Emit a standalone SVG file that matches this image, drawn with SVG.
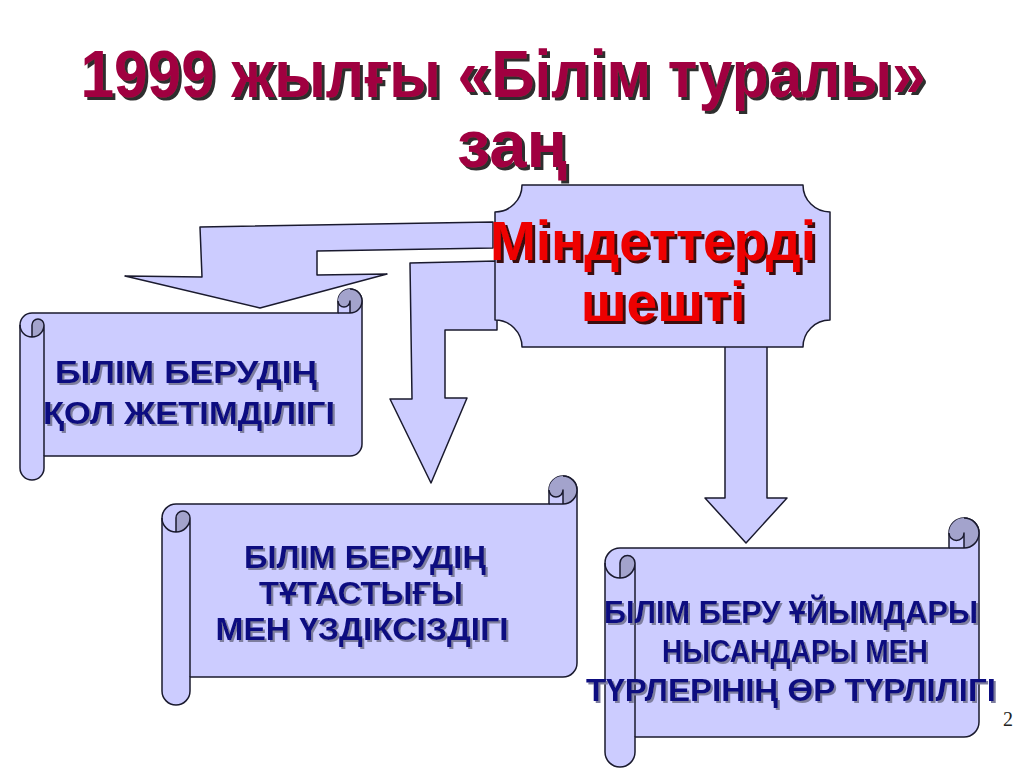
<svg xmlns="http://www.w3.org/2000/svg" width="1024" height="768" viewBox="0 0 1024 768">
<defs>
<filter id="shT" x="-5%" y="-20%" width="110%" height="140%"><feDropShadow dx="3" dy="3" stdDeviation="0.3" flood-color="#2e2e2e" flood-opacity="1"/></filter>
<filter id="shP" x="-5%" y="-20%" width="110%" height="140%"><feDropShadow dx="3" dy="3" stdDeviation="0.3" flood-color="#3a1010" flood-opacity="1"/></filter>
<filter id="shS" x="-5%" y="-20%" width="110%" height="140%"><feDropShadow dx="2" dy="2" stdDeviation="0.5" flood-color="#7E7E9E" flood-opacity="1"/></filter>
</defs>
<style>
.bg{fill:#ffffff}
.shape{fill:#CCCCFF;stroke:#1a1a2e;stroke-width:1.5;stroke-linejoin:round}
.dark{fill:#A3A3CC;stroke:none}
.line{fill:none;stroke:#1a1a2e;stroke-width:1.5;stroke-linejoin:round}
.title{font-family:"Liberation Sans",Arial,sans-serif;font-weight:bold;font-size:67px;text-anchor:middle;fill:#A00040;filter:url(#shT)}
.ptxt{font-family:"Liberation Sans",Arial,sans-serif;font-weight:bold;font-size:55px;text-anchor:middle;fill:#EE0000;filter:url(#shP)}
.stxt{font-family:"Liberation Sans",Arial,sans-serif;font-weight:bold;font-size:31px;text-anchor:middle;fill:#0A0A80;filter:url(#shS)}
.num{font-family:"Liberation Serif","Times New Roman",serif;font-size:20px;fill:#222;text-anchor:middle}
</style>
<rect class="bg" x="0" y="0" width="1024" height="768"/>

<g id="title">
<text class="title" x="503" y="97" textLength="845" lengthAdjust="spacingAndGlyphs">1999 жылғы «Білім туралы»</text>
<text class="title" x="512" y="167">заң</text>
</g>

<g id="connectors">
<polygon class="shape" points="200,227 493,222 493,248 317,251 317,275 387,274 260,308 125,276 202,277"/>
<polygon class="shape" points="410,263 497,261 497,330 445,330 445,398 467,398 431,483 390,399 412,399"/>
<polygon class="shape" points="725,340 767,340 767,498 787,498 746,543 705,498 725,498"/>
</g>

<g id="node-tasks">
<path class="shape" d="M522,185 H803 A27 27 0 0 0 830,212 V320 A27 27 0 0 0 803,347 H522 A27 27 0 0 0 495,320 V212 A27 27 0 0 0 522,185 Z"/>
<text class="ptxt" x="653" y="260">Міндеттерді</text>
<text class="ptxt" x="663" y="321">шешті</text>
</g>

<g id="node-access">
<path class="shape" d="M20,325 A12 12 0 0 1 32,313 L338,313 L338,301 A12 12 0 0 1 362,301 L362,444 A12 12 0 0 1 350,456 L44,456 L44,468 A12 12 0 0 1 20,468 Z"/>
<path class="dark" d="M32,337 A12 12 0 0 0 44,325 A6 6 0 0 0 32,325 Z"/>
<path class="dark" d="M350,313 A12 12 0 1 0 338,301 A6 6 0 0 0 350,301 Z"/>
<path class="line" d="M338,313 L350,313 A12 12 0 0 0 350,289 M350,313 L350,301 A6 6 0 0 1 338,301 M32,337 L32,325 A6 6 0 0 1 44,325 A12 12 0 0 1 20,325 M44,325 L44,456"/>
<text class="stxt" x="186" y="383" textLength="262" lengthAdjust="spacingAndGlyphs">БІЛІМ БЕРУДІҢ</text>
<text class="stxt" x="189" y="424" textLength="292" lengthAdjust="spacingAndGlyphs">ҚОЛ ЖЕТІМДІЛІГІ</text>
</g>

<g id="node-continuity">
<path class="shape" d="M162,518 A14 14 0 0 1 176,504 L549,504 L549,490 A14 14 0 0 1 577,490 L577,663 A14 14 0 0 1 563,677 L190,677 L190,691 A14 14 0 0 1 162,691 Z"/>
<path class="dark" d="M176,532 A14 14 0 0 0 190,518 A7 7 0 0 0 176,518 Z"/>
<path class="dark" d="M563,504 A14 14 0 1 0 549,490 A7 7 0 0 0 563,490 Z"/>
<path class="line" d="M549,504 L563,504 A14 14 0 0 0 563,476 M563,504 L563,490 A7 7 0 0 1 549,490 M176,532 L176,518 A7 7 0 0 1 190,518 A14 14 0 0 1 162,518 M190,518 L190,677"/>
<text class="stxt" x="365" y="568" textLength="242" lengthAdjust="spacingAndGlyphs">БІЛІМ БЕРУДІҢ</text>
<text class="stxt" x="361" y="604" textLength="204" lengthAdjust="spacingAndGlyphs">ТҰТАСТЫҒЫ</text>
<text class="stxt" x="362" y="640" textLength="293" lengthAdjust="spacingAndGlyphs">МЕН ҮЗДІКСІЗДІГІ</text>
</g>

<g id="node-diversity">
<path class="shape" d="M605,563 A15 15 0 0 1 620,548 L949,548 L949,533 A15 15 0 0 1 979,533 L979,722 A15 15 0 0 1 964,737 L635,737 L635,752 A15 15 0 0 1 605,752 Z"/>
<path class="dark" d="M620,578 A15 15 0 0 0 635,563 A7.5 7.5 0 0 0 620,563 Z"/>
<path class="dark" d="M964,548 A15 15 0 1 0 949,533 A7.5 7.5 0 0 0 964,533 Z"/>
<path class="line" d="M949,548 L964,548 A15 15 0 0 0 964,518 M964,548 L964,533 A7.5 7.5 0 0 1 949,533 M620,578 L620,563 A7.5 7.5 0 0 1 635,563 A15 15 0 0 1 605,563 M635,563 L635,737"/>
<text class="stxt" x="791" y="623" textLength="374" lengthAdjust="spacingAndGlyphs">БІЛІМ БЕРУ ҰЙЫМДАРЫ</text>
<text class="stxt" x="795" y="662" textLength="266" lengthAdjust="spacingAndGlyphs">НЫСАНДАРЫ МЕН</text>
<text class="stxt" x="791" y="701" textLength="410" lengthAdjust="spacingAndGlyphs">ТҮРЛЕРІНІҢ ӨР ТҮРЛІЛІГІ</text>
</g>

<text class="num" x="1008" y="726">2</text>
</svg>
